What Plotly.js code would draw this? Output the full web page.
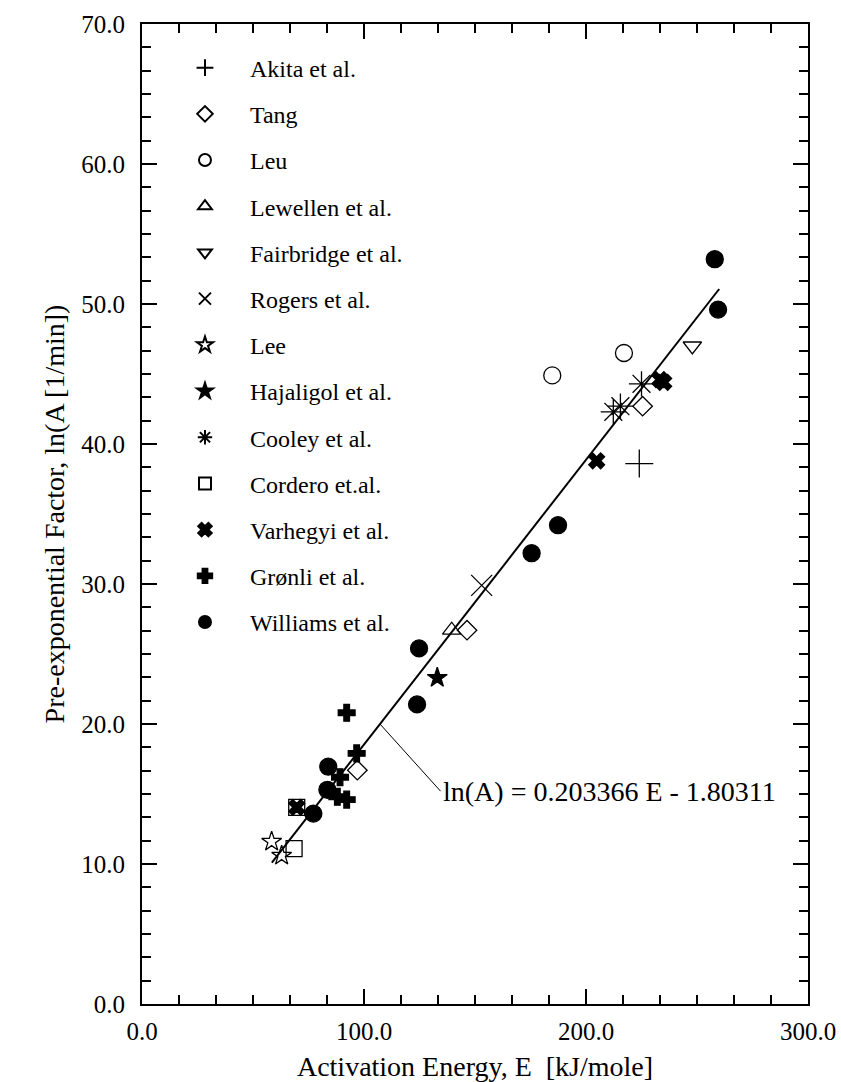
<!DOCTYPE html>
<html>
<head>
<meta charset="utf-8">
<script src="https://cdn.plot.ly/plotly-3.0.1.min.js"></script>
<style>html,body{margin:0;padding:0;background:#fff;}#chart{width:841px;height:1082px;}</style>
</head>
<body>
<div id="chart"></div>
<script>
// ---- data (E in kJ/mole, ln(A) with A in 1/min) ----
const seriesNames = ["Akita et al.","Tang","Leu","Lewellen et al.","Fairbridge et al.","Rogers et al.","Lee","Hajaligol et al.","Cooley et al.","Cordero et.al.","Varhegyi et al.","Grønli et al.","Williams et al."];
const akitaE = [224.0];               const akitaLnA = [38.6];
const tangE = [97.0, 146.4, 225.5];   const tangLnA = [16.7, 26.7, 42.7];
const leuE = [184.8, 217.1];          const leuLnA = [44.9, 46.5];
const lewellenE = [139.5];            const lewellenLnA = [26.7];
const fairbridgeE = [247.9];          const fairbridgeLnA = [47.0];
const rogersE = [153.0];              const rogersLnA = [29.9];
const leeE = [58.4, 62.9];            const leeLnA = [11.6, 10.6];
const hajaligolE = [133.0];           const hajaligolLnA = [23.3];
const cooleyE = [212.3, 215.5, 225.0];const cooleyLnA = [42.3, 42.7, 44.3];
const corderoE = [68.5, 69.7];        const corderoLnA = [11.1, 14.05];
const varhegyiE = [69.7, 204.8, 233.3, 235.0]; const varhegyiLnA = [14.05, 38.8, 44.6, 44.4];
const gronliE = [88.0, 89.2, 92.2, 92.2, 96.7]; const gronliLnA = [14.8, 16.2, 14.6, 20.8, 17.9];
const williamsE = [77.2, 83.5, 83.9, 123.9, 124.8, 175.5, 187.4, 258.0, 259.5];
const williamsLnA = [13.6, 15.3, 16.95, 21.4, 25.4, 32.2, 34.2, 53.2, 49.6];
// linear fit
const fitSlope = 0.203366;
const fitIntercept = -1.80311;
const fitERange = [58.5, 260];
const fitLabel = "ln(A) = 0.203366 E - 1.80311";
const fitLabelE = 107.2;   // point on the fit line where the leader starts
const xTickVals = [0, 100, 200, 300];
const yTickVals = [0, 10, 20, 30, 40, 50, 60, 70];

// ---- styling ----
const FONT = "'Liberation Serif', 'Times New Roman', serif";
const seriesX = [akitaE, tangE, leuE, lewellenE, fairbridgeE, rogersE, leeE, hajaligolE, cooleyE, corderoE, varhegyiE, gronliE, williamsE];
const seriesY = [akitaLnA, tangLnA, leuLnA, lewellenLnA, fairbridgeLnA, rogersLnA, leeLnA, hajaligolLnA, cooleyLnA, corderoLnA, varhegyiLnA, gronliLnA, williamsLnA];
const symbols = ["cross-thin-open","diamond-open","circle-open","triangle-up-open","triangle-down-open","x-thin-open","star-open","star","asterisk-open","square-open","x","cross","circle"];
const sizes = [20,15,17,16,16,21,15,15,21,16,14,14,17];

const traces = seriesNames.map((name, i) => ({
  type: "scatter", mode: "markers", name: name,
  x: seriesX[i], y: seriesY[i],
  legendgroup: "g" + i,
  marker: {symbol: symbols[i], size: sizes[i], color: "#000", line: {color: "#000", width: 1.3}},
  hoverinfo: "x+y"
}));

traces.push({
  type: "scatter", mode: "lines", showlegend: false,
  x: fitERange, y: fitERange.map(e => fitSlope * e + fitIntercept),
  line: {color: "#000", width: 2}
});

const axisCommon = {
  showline: true, linecolor: "#000", linewidth: 2, mirror: "ticks",
  ticks: "inside", ticklen: 15, tickwidth: 2, tickcolor: "#000",
  showgrid: false, zeroline: false, tickformat: ".1f",
  tickfont: {family: FONT, size: 25, color: "#000"}
};

const layout = {
  width: 841, height: 1082,
  paper_bgcolor: "#fff", plot_bgcolor: "#fff",
  margin: {l: 142, r: 33, t: 24, b: 78},
  font: {family: FONT, color: "#000", size: 24},
  xaxis: Object.assign({}, axisCommon, {
    range: [0, 300], tickvals: xTickVals, ticklabelstandoff: 4,
    minor: {dtick: 100/6, ticks: "inside", ticklen: 9, tickwidth: 2, tickcolor: "#000", showgrid: false},
    title: {text: "Activation Energy, E  [kJ/mole]", font: {family: FONT, size: 28, color: "#000"}, standoff: 14}
  }),
  yaxis: Object.assign({}, axisCommon, {
    range: [0, 70], tickvals: yTickVals, ticklabelstandoff: 10,
    minor: {dtick: 10/6, ticks: "inside", ticklen: 9, tickwidth: 2, tickcolor: "#000", showgrid: false},
    title: {text: "Pre-exponential Factor, ln(A [1/min])", font: {family: FONT, size: 28, color: "#000"}, standoff: 8}
  }),
  showlegend: true,
  legend: {
    x: 0.027, y: 0.978, xanchor: "left", yanchor: "top",
    bgcolor: "rgba(0,0,0,0)", borderwidth: 0,
    font: {family: FONT, size: 24, color: "#000"},
    tracegroupgap: 12, traceorder: "grouped", itemsizing: "constant", itemwidth: 80
  },
  annotations: [{
    x: fitLabelE, y: fitSlope * fitLabelE + fitIntercept, xref: "x", yref: "y",
    ax: 134.5, ay: 15.2, axref: "x", ayref: "y",
    text: fitLabel, showarrow: true, arrowhead: 0, arrowwidth: 1, arrowcolor: "#000",
    xanchor: "left", yanchor: "middle",
    font: {family: FONT, size: 28, color: "#000"}
  }]
};

Plotly.newPlot("chart", traces, layout, {displayModeBar: false, staticPlot: true});
</script>
</body>
</html>
